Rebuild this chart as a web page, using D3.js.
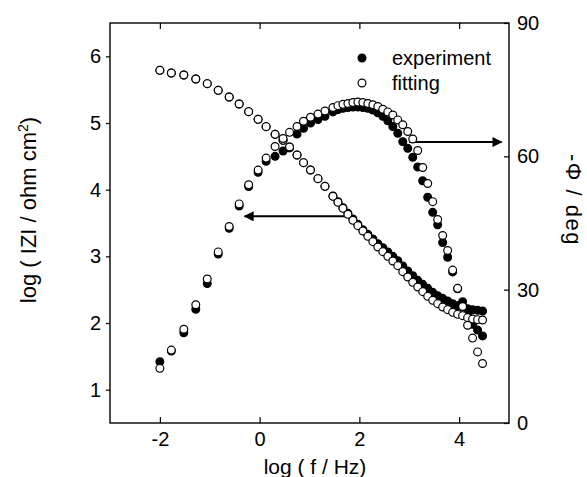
<!doctype html>
<html lang="en">
    <head>
        <meta charset="utf-8">
        <script src="https://d3js.org/d3.v7.min.js"></script>
        <style>
            body { margin: 0; background: #fff; }
            text { font-family: "Liberation Sans", Arial, sans-serif; fill: #000; }
        </style>
    </head>
    <body>
        <div id="my_dataviz"></div>

        <script>
            // log(f / Hz), shared by all four series
            var logF = [-2.00, -1.77, -1.52, -1.28, -1.05, -0.83, -0.61, -0.41, -0.22, -0.03,
                        0.13, 0.31, 0.47, 0.60, 0.75, 0.88, 1.02, 1.17, 1.31, 1.47,
                        1.57, 1.67, 1.77, 1.87, 1.97, 2.07, 2.17, 2.27, 2.37, 2.47,
                        2.57, 2.67, 2.77, 2.87, 2.97, 3.07, 3.17, 3.27, 3.37, 3.47,
                        3.57, 3.67, 3.77, 3.87, 3.97, 4.07, 4.17, 4.27, 4.37, 4.47]

            // log |Z| (left axis)
            var expLogZ = [5.79, 5.75, 5.72, 5.66, 5.59, 5.49, 5.39, 5.285, 5.17, 5.055,
                           4.945, 4.83, 4.74, 4.64, 4.52, 4.405, 4.295, 4.165, 4.05, 3.905,
                           3.82, 3.73, 3.645, 3.56, 3.48, 3.40, 3.33, 3.26, 3.19, 3.13,
                           3.065, 3.00, 2.935, 2.855, 2.78, 2.71, 2.64, 2.58, 2.52, 2.46,
                           2.41, 2.37, 2.33, 2.29, 2.26, 2.24, 2.215, 2.20, 2.19, 2.18]
            var fitLogZ = [5.79, 5.75, 5.72, 5.66, 5.59, 5.49, 5.39, 5.285, 5.17, 5.055,
                           4.945, 4.83, 4.74, 4.64, 4.52, 4.405, 4.295, 4.165, 4.05, 3.90,
                           3.81, 3.72, 3.63, 3.54, 3.46, 3.38, 3.30, 3.22, 3.14, 3.07,
                           3.00, 2.93, 2.86, 2.77, 2.69, 2.61, 2.54, 2.47, 2.40, 2.34,
                           2.29, 2.24, 2.20, 2.16, 2.13, 2.11, 2.08, 2.06, 2.05, 2.045]

            // -phase in deg (right axis)
            var expPhase = [13.8, 16.2, 20.3, 25.6, 31.4, 38.0, 43.8, 48.8, 53.2, 56.4,
                            58.9, 60.0, 61.2, 61.9, 65.0, 66.3, 67.5, 68.3, 69.0, 70.0,
                            70.5, 70.8, 71.0, 71.1, 71.1, 71.0, 70.8, 70.4, 69.8, 69.0,
                            68.0, 66.7, 65.2, 63.3, 61.8, 59.8, 57.6, 54.5, 50.8, 47.4,
                            44.6, 40.6, 37.3, 34.0, 30.2, 27.3, 24.3, 22.2, 20.9, 19.6]
            var fitPhase = [12.3, 16.4, 21.1, 26.6, 32.4, 38.5, 44.2, 49.3, 53.6, 56.9,
                            59.6, 62.2, 64.0, 65.4, 66.7, 67.9, 68.8, 69.5, 70.2, 71.0,
                            71.4, 71.7, 71.9, 72.1, 72.2, 72.1, 71.9, 71.6, 71.2, 70.6,
                            70.0, 69.3, 68.2, 67.1, 65.6, 63.9, 61.3, 57.5, 53.9, 49.8,
                            45.8, 42.2, 38.8, 34.4, 30.3, 26.2, 22.0, 19.1, 16.0, 13.4]

            var xTicks = [-2, 0, 2, 4]
            var zTicks = [1, 2, 3, 4, 5, 6]
            var phaseTicks = [0, 30, 60, 90]

            var width = 587
            var height = 477
            // plot box (window.top is read-only, so no bare "top" here)
            var box = {left: 110, right: 509, top: 23, bottom: 423}

            var svg = d3.select("#my_dataviz")
                .append("svg")
                .attr("width", width)
                .attr("height", height)

            var x = d3.scaleLinear().domain([-3, 5]).range([box.left, box.right])
            var yZ = d3.scaleLinear().domain([0.5, 6.5]).range([box.bottom, box.top])
            var yP = d3.scaleLinear().domain([0, 90]).range([box.bottom, box.top])

            // Axes
            function style(g) {
                g.select(".domain").remove()
                g.selectAll("line").attr("stroke", "#000").attr("stroke-width", 1.2)
                g.selectAll("text").style("font-size", "20px")
                    .style("font-family", "'Liberation Sans', Arial, sans-serif")
            }

            svg.append("g")
                .attr("transform", "translate(0," + box.bottom + ")")
                .call(d3.axisBottom(x).tickValues(xTicks).tickSizeInner(-6).tickSizeOuter(0).tickPadding(9)
                    .tickFormat(function(d){ return d < 0 ? "-" + (-d) : d }))
                .call(style)

            svg.append("g")
                .attr("transform", "translate(0," + box.top + ")")
                .call(d3.axisTop(x).tickValues(xTicks).tickSizeInner(-6).tickSizeOuter(0).tickFormat(""))
                .call(style)

            svg.append("g")
                .attr("transform", "translate(" + box.left + ",0)")
                .call(d3.axisLeft(yZ).tickValues(zTicks).tickFormat(d3.format("d"))
                    .tickSizeInner(4).tickSizeOuter(0).tickPadding(5))
                .call(style)

            svg.append("g")
                .attr("transform", "translate(" + box.right + ",0)")
                .call(d3.axisRight(yP).tickValues(phaseTicks).tickSizeInner(-5).tickSizeOuter(0).tickPadding(8))
                .call(style)

            // Frame
            svg.append("rect")
                .attr("x", box.left).attr("y", box.top)
                .attr("width", box.right - box.left).attr("height", box.bottom - box.top)
                .attr("fill", "none").attr("stroke", "#000").attr("stroke-width", 1.4)

            // Arrows
            svg.append("defs").append("marker")
                .attr("id", "head")
                .attr("viewBox", "0 0 10 10")
                .attr("refX", 9).attr("refY", 5)
                .attr("markerWidth", 7).attr("markerHeight", 5)
                .attr("markerUnits", "strokeWidth")
                .attr("orient", "auto")
                .append("path").attr("d", "M0,0 L10,5 L0,10 Z").attr("fill", "#000")

            svg.append("line")
                .attr("x1", x(1.8)).attr("y1", yZ(3.6))
                .attr("x2", x(-0.3)).attr("y2", yZ(3.6))
                .attr("stroke", "#000").attr("stroke-width", 2)
                .attr("marker-end", "url(#head)")

            svg.append("line")
                .attr("x1", x(3.0)).attr("y1", yP(63.2))
                .attr("x2", x(4.85)).attr("y2", yP(63.2))
                .attr("stroke", "#000").attr("stroke-width", 2)
                .attr("marker-end", "url(#head)")

            // Points: experiment (filled) under fitting (open)
            function dots(values, yScale, fill) {
                svg.append("g")
                    .selectAll("circle")
                    .data(values)
                    .enter()
                    .append("circle")
                    .attr("cx", function(d, i){ return x(logF[i]) })
                    .attr("cy", function(d){ return yScale(d) })
                    .attr("r", 3.9)
                    .attr("fill", fill)
                    .attr("stroke", "#000")
                    .attr("stroke-width", 1.2)
            }
            dots(expLogZ, yZ, "#000")
            dots(expPhase, yP, "#000")
            dots(fitLogZ, yZ, "#fff")
            dots(fitPhase, yP, "#fff")

            // Legend
            var legend = svg.append("g")
            legend.append("circle").attr("cx", 362).attr("cy", 58).attr("r", 3.9)
                .attr("fill", "#000").attr("stroke", "#000").attr("stroke-width", 1.2)
            legend.append("circle").attr("cx", 362).attr("cy", 83).attr("r", 3.9)
                .attr("fill", "#fff").attr("stroke", "#000").attr("stroke-width", 1.2)
            legend.append("text").attr("x", 392).attr("y", 65).style("font-size", "20px").text("experiment")
            legend.append("text").attr("x", 392).attr("y", 90).style("font-size", "20px").text("fitting")

            // Axis titles
            svg.append("text")
                .attr("x", 315).attr("y", 474)
                .attr("text-anchor", "middle")
                .style("font-size", "21px")
                .text("log ( f / Hz)")

            var yTitle = svg.append("text")
                .attr("transform", "translate(36,210) rotate(-90)")
                .attr("text-anchor", "middle")
                .style("font-size", "22px")
            yTitle.append("tspan").text("log ( IZI / ohm cm")
            yTitle.append("tspan").attr("dy", -8).style("font-size", "14px").text("2")
            yTitle.append("tspan").attr("dy", 8).text(")")

            svg.append("text")
                .attr("transform", "translate(566,200) rotate(90)")
                .attr("text-anchor", "middle")
                .style("font-size", "22px")
                .style("letter-spacing", "1.5px")
                .text("-\u03A6 / deg")
        </script>
    </body>
</html>
